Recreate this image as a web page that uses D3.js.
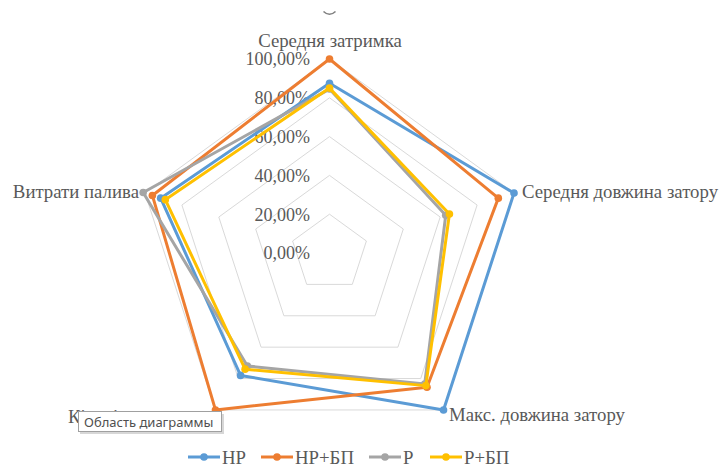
<!DOCTYPE html>
<html>
<head>
<meta charset="utf-8">
<script src="https://cdn.jsdelivr.net/npm/d3@7"></script>
<style>
  html, body { margin: 0; padding: 0; background: #fff; }
  svg { display: block; }
</style>
</head>
<body>
<svg id="chart" width="720" height="468"></svg>
<script>
// Radar chart axes
const categories = ["Середня затримка", "Середня довжина затору", "Макс. довжина затору", "Кількість зупинок", "Витрати палива"];

// Series values (share of maximum)
const seriesNames = ["НР", "НР+БП", "Р", "Р+БП"];
const valuesHP    = [0.875, 1.00, 1.00, 0.78, 0.915];
const valuesHPBP  = [1.00, 0.915, 0.855, 1.00, 0.96];
const valuesR     = [0.845, 0.63, 0.835, 0.72, 1.01];
const valuesRBP   = [0.85, 0.65, 0.845, 0.74, 0.89];
const seriesColors = ["#5B9BD5", "#ED7D31", "#A5A5A5", "#FFC000"];

// Radial ticks
const tickValues = [0, 0.2, 0.4, 0.6, 0.8, 1.0];
const tickLabels = ["0,00%", "20,00%", "40,00%", "60,00%", "80,00%", "100,00%"];

const series = [valuesHP, valuesHPBP, valuesR, valuesRBP];

const svg = d3.select("#chart");
const cx = 329.5, cy = 253, R = 194;
const serif = "Liberation Serif, Times New Roman, serif";
const labelSize = 18.8;

const r = d3.scaleLinear().domain([0, 1]).range([0, R]);
const angle = d3.scaleLinear().domain([0, categories.length]).range([0, 2 * Math.PI]);

const pt = (i, v) => {
  const a = angle(i);
  return [cx + r(v) * Math.sin(a), cy - r(v) * Math.cos(a)];
};

// Fragment of the title above the plot
svg.append("path")
  .attr("d", "M323.5,11.5 Q329.5,17 335.5,11.5")
  .attr("fill", "none").attr("stroke", "#7f7f7f").attr("stroke-width", 1.6);

// Grid pentagons
const grid = svg.append("g");
tickValues.filter(t => t > 0).forEach(t => {
  const pts = categories.map((c, i) => pt(i, t));
  grid.append("polygon")
    .attr("points", pts.map(p => p.join(",")).join(" "))
    .attr("fill", "none")
    .attr("stroke", "#d9d9d9")
    .attr("stroke-width", 1);
});

// Radial tick labels
svg.append("g").selectAll("text").data(tickValues).join("text")
  .attr("x", 310)
  .attr("y", d => cy - r(d))
  .attr("dy", "0.35em")
  .attr("text-anchor", "end")
  .attr("font-family", serif)
  .attr("font-size", 18)
  .attr("fill", "#595959")
  .text((d, i) => tickLabels[i]);

// Category labels
const labelPos = [
  { x: 330, y: 47, anchor: "middle" },
  { x: 522, y: 198, anchor: "start" },
  { x: 449, y: 421, anchor: "start" },
  { x: 213, y: 423, anchor: "end" },
  { x: 139, y: 198, anchor: "end" }
];
svg.append("g").selectAll("text").data(categories).join("text")
  .attr("x", (d, i) => labelPos[i].x)
  .attr("y", (d, i) => labelPos[i].y)
  .attr("text-anchor", (d, i) => labelPos[i].anchor)
  .attr("font-family", serif)
  .attr("font-size", labelSize)
  .attr("fill", "#595959")
  .text(d => d);

// Series lines and markers
const line = d3.line().curve(d3.curveLinearClosed);
series.forEach((vals, s) => {
  const pts = vals.map((v, i) => pt(i, v));
  const g = svg.append("g");
  g.append("path")
    .attr("d", line(pts))
    .attr("fill", "none")
    .attr("stroke", seriesColors[s])
    .attr("stroke-width", 3)
    .attr("stroke-linejoin", "round");
  g.selectAll("circle").data(pts).join("circle")
    .attr("cx", d => d[0]).attr("cy", d => d[1])
    .attr("r", 3.8)
    .attr("fill", seriesColors[s]);
});

// Legend
const legendX = [188, 261, 369, 430];
const legend = svg.append("g");
seriesNames.forEach((name, i) => {
  const x = legendX[i], y = 457;
  legend.append("line")
    .attr("x1", x).attr("x2", x + 32).attr("y1", y).attr("y2", y)
    .attr("stroke", seriesColors[i]).attr("stroke-width", 3);
  legend.append("circle")
    .attr("cx", x + 16).attr("cy", y).attr("r", 3.8).attr("fill", seriesColors[i]);
  legend.append("text")
    .attr("x", x + 34).attr("y", y).attr("dy", "0.35em")
    .attr("font-family", serif)
    .attr("font-size", labelSize)
    .attr("fill", "#595959")
    .text(name);
});

// Hover tooltip over the plot area
const tip = svg.append("g");
tip.append("rect")
  .attr("x", 80).attr("y", 414).attr("width", 144).attr("height", 20)
  .attr("fill", "#bdbdbd").attr("opacity", 0.6);
tip.append("rect")
  .attr("x", 78.5).attr("y", 411.5).attr("width", 143).attr("height", 20)
  .attr("fill", "#fff").attr("stroke", "#a0a0a0").attr("stroke-width", 1);
tip.append("text")
  .attr("x", 84).attr("y", 422).attr("dy", "0.35em")
  .attr("font-family", "Noto Sans, Open Sans, sans-serif")
  .attr("font-size", 13)
  .attr("fill", "#505050")
  .text("Область диаграммы");
</script>
</body>
</html>
